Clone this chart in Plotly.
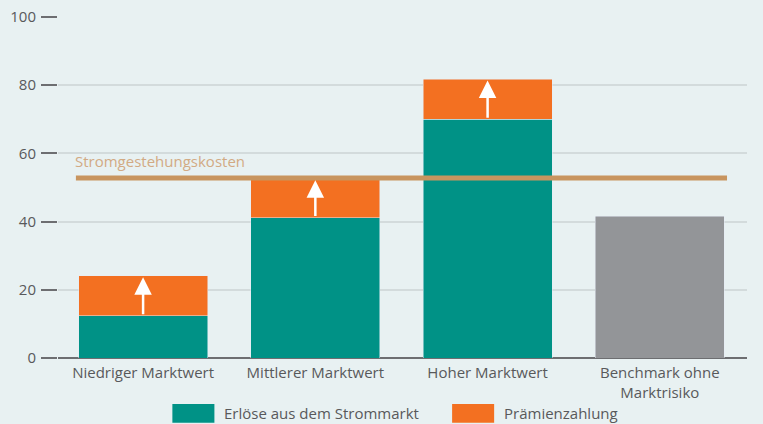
import plotly.graph_objects as go

categories = ["Niedriger Marktwert", "Mittlerer Marktwert", "Hoher Marktwert", "Benchmark ohne<br>Marktrisiko"]
erloese = [12.4, 41.2, 70.0, None]
praemie = [11.7, 11.3, 11.8, None]
benchmark = [None, None, None, 41.5]
stromgestehungskosten = 52.8
y_ticks = [0, 20, 40, 60, 80, 100]
legend_labels = ["Erlöse aus dem Strommarkt", "Prämienzahlung"]

TEAL = "#009286"
ORANGE = "#F37021"
GRAY = "#939598"
TAN = "#C8955F"
BG = "#E8F1F2"
TXT = "#58595B"
FONT = "Open Sans"

fig = go.Figure()
fig.add_bar(x=categories, y=erloese, marker_color=TEAL, name=legend_labels[0], showlegend=False)
fig.add_bar(x=categories, y=praemie, marker_color=ORANGE, name=legend_labels[1], showlegend=False)
fig.add_bar(x=categories, y=benchmark, marker_color=GRAY, name="Benchmark", showlegend=False)

# reference cost line
fig.add_shape(type="line", xref="paper", yref="y", x0=0.026, x1=0.971,
              y0=stromgestehungskosten, y1=stromgestehungskosten,
              line=dict(color=TAN, width=5), layer="above")
fig.add_annotation(xref="paper", yref="y", x=0.026, y=stromgestehungskosten, text="Stromgestehungskosten",
                   showarrow=False, xanchor="left", yanchor="bottom", yshift=5, xshift=-3,
                   font=dict(family=FONT, size=15, color="#D2AA84"))

# arrows
for c, base, add in zip(categories, erloese, praemie):
    if base is None:
        continue
    fig.add_annotation(x=c, y=base + add - 0.4, ax=c, ay=base, xref="x", yref="y", axref="x", ayref="y",
                       showarrow=True, arrowhead=2, arrowsize=1.4, arrowwidth=2.5, arrowcolor="white",
                       text="", standoff=0, startstandoff=0)

# custom legend
leg_y0, leg_y1 = -0.135, -0.19
items = [(0.166, TEAL, legend_labels[0]), (0.572, ORANGE, legend_labels[1])]
for x0, col, lab in items:
    fig.add_shape(type="rect", xref="paper", yref="paper", x0=x0, x1=x0 + 0.061, y0=leg_y1, y1=leg_y0,
                  fillcolor=col, line=dict(width=0))
    fig.add_annotation(xref="paper", yref="paper", x=x0 + 0.072, y=(leg_y0 + leg_y1) / 2, text=lab,
                       showarrow=False, xanchor="left", yanchor="middle",
                       font=dict(family=FONT, size=15, color=TXT))

fig.update_layout(
    barmode="stack", bargap=0.25,
    width=763, height=424,
    margin=dict(l=58, r=16, t=17, b=66),
    paper_bgcolor=BG, plot_bgcolor=BG,
    font=dict(family=FONT, size=15, color=TXT),
    showlegend=False,
)
fig.update_yaxes(range=[0, 100], tickvals=y_ticks, ticks="outside", ticklen=16, tickwidth=2,
                 tickcolor="#6D6E71", showgrid=True, gridcolor="#D3DBDC", gridwidth=2,
                 zeroline=True, zerolinecolor="#6D6E71", zerolinewidth=2, showline=False,
                 automargin=False,
                 tickfont=dict(family=FONT, size=15, color=TXT), ticklabelstandoff=2)
fig.update_xaxes(range=[-0.494, 3.506], showgrid=False, showline=False, ticks="", ticklabelstandoff=4,
                 automargin=False,
                 tickfont=dict(family=FONT, size=15, color=TXT))

fig.write_html("out.html", config={"displayModeBar": False},
               post_script="document.body.style.margin='0';document.body.style.background='%s';" % BG)
